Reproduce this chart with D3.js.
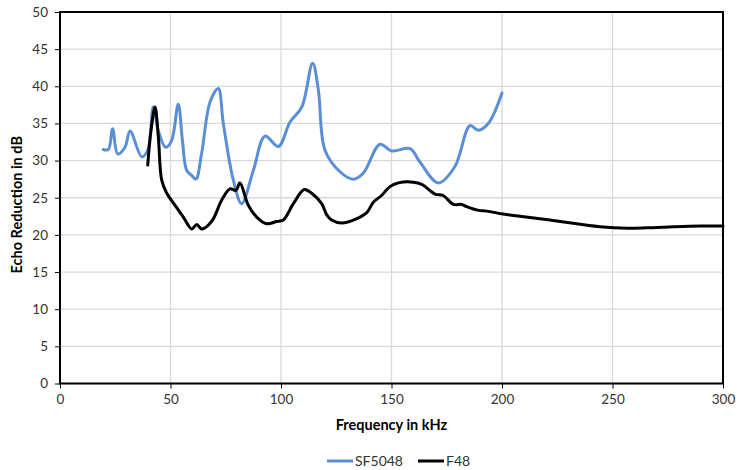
<!DOCTYPE html>
<html>
<head>
<meta charset="utf-8">
<script src="https://cdn.jsdelivr.net/npm/d3@7"></script>
<style>
  body { margin: 0; background: #fff; }
  svg text { font-family: Lato, "Open Sans", sans-serif; }
</style>
</head>
<body>
<svg id="chart" width="746" height="470"></svg>
<script>
// SF5048 series
const sfFreq = [19.6, 21.9, 23.8, 26.1, 29.4, 31.7, 37.0, 39.7, 42.2, 44.5, 47.8, 50.5, 53.5, 55.4,
  57.3, 59.6, 61.5, 64.1, 67.9, 71.6, 73.9, 78.4, 82.2, 87.5, 92.8, 98.8, 104.1, 109.4, 114.3,
  116.9, 119.9, 126.7, 132.7, 137.2, 144.8, 150.1, 158.4, 162.9, 171.2, 178.7, 185.5, 189.3,
  193.8, 200];
const sfEcho = [31.5, 31.5, 34.3, 30.9, 31.8, 34.0, 30.5, 31.4, 37.2, 34.0, 31.8, 32.7, 37.6, 32.7,
  28.7, 28.0, 27.5, 31.0, 37.9, 39.7, 35.0, 27.4, 24.2, 28.7, 33.3, 31.9, 35.2, 37.2, 43.1,
  39.5, 31.4, 28.5, 27.5, 28.3, 32.2, 31.3, 31.6, 29.8, 27.0, 29.2, 34.7, 34.1,
  35.0, 39.1];

// F48 series
const fFreq = [39.7, 41.2, 43.0, 44.5, 46.0, 48.3, 52.0, 55.8, 59.6, 61.9, 64.1, 68.6, 73.2, 76.9,
  79.6, 81.4, 85.2, 89.0, 93.5, 98.0, 101.0, 105.6, 110.5, 113.9, 118.4, 120.7, 122.9, 127.5,
  134.3, 138.8, 141.8, 145.5, 149.3, 153.1, 159.9, 163.7, 169.7, 173.4, 178.0, 181.8, 184.0,
  189.3, 193.1, 200.6, 208.1, 221.7, 244.3, 257, 270, 289.6, 300];
const fEcho = [29.4, 34.1, 37.2, 33.2, 27.4, 25.6, 24.0, 22.4, 20.8, 21.4, 20.8, 21.8, 24.7, 26.2,
  26.0, 27.0, 24.0, 22.4, 21.5, 21.8, 22.0, 24.2, 26.1, 25.6, 24.2, 22.7, 22.0, 21.6,
  22.2, 23.0, 24.4, 25.3, 26.5, 27.0, 27.1, 26.8, 25.5, 25.3, 24.1, 24.1, 23.8,
  23.3, 23.2, 22.8, 22.5, 22.0, 21.1, 20.9, 21.0, 21.2, 21.2];

const xTicks = [0, 50, 100, 150, 200, 250, 300];
const yTicks = [0, 5, 10, 15, 20, 25, 30, 35, 40, 45, 50];

const seriesNames = ["SF5048", "F48"];
const seriesColors = ["#5A8FD6", "#000000"];

const svg = d3.select("#chart");
const plotL = 60, plotR = 723, plotT = 12, plotB = 383.5;

const x = d3.scaleLinear().domain([0, 300]).range([plotL, plotR]);
const y = d3.scaleLinear().domain([0, 50]).range([plotB, plotT]);

// gridlines
const grid = svg.append("g").attr("class", "grid");
grid.selectAll(".hgrid")
  .data(yTicks)
  .join("line")
  .attr("x1", plotL).attr("x2", plotR)
  .attr("y1", (d) => y(d)).attr("y2", (d) => y(d))
  .attr("stroke", "#d9d9d9")
  .attr("stroke-width", 1.3);
grid.selectAll(".vgrid")
  .data(xTicks)
  .join("line")
  .attr("y1", plotT).attr("y2", plotB)
  .attr("x1", (d) => x(d)).attr("x2", (d) => x(d))
  .attr("stroke", "#d9d9d9")
  .attr("stroke-width", 1.3);

// axes
const xAxis = svg.append("g")
  .attr("transform", `translate(0,${plotB})`)
  .call(d3.axisBottom(x).tickValues(xTicks).tickSize(5).tickPadding(6));
const yAxis = svg.append("g")
  .attr("transform", `translate(${plotL},0)`)
  .call(d3.axisLeft(y).tickValues(yTicks).tickSize(5).tickPadding(7));

[xAxis, yAxis].forEach((ax) => {
  ax.select(".domain").remove();
  ax.selectAll(".tick line").attr("stroke", "#000").attr("stroke-width", 1);
  ax.selectAll(".tick text")
    .attr("fill", "#333")
    .style("font-size", "13.5px");
});

// plot border
svg.append("rect")
  .attr("x", plotL).attr("y", plotT)
  .attr("width", plotR - plotL).attr("height", plotB - plotT)
  .attr("fill", "none")
  .attr("stroke", "#000")
  .attr("stroke-width", 2);

// lines
const line = d3.line()
  .x((d) => x(d[0]))
  .y((d) => y(d[1]))
  .curve(d3.curveCatmullRom.alpha(0.5));

const series = [
  d3.zip(sfFreq, sfEcho),
  d3.zip(fFreq, fEcho)
];

svg.append("g")
  .selectAll("path")
  .data(series)
  .join("path")
  .attr("d", (d) => line(d))
  .attr("fill", "none")
  .attr("stroke", (d, i) => seriesColors[i])
  .attr("stroke-width", 3)
  .attr("stroke-linejoin", "round")
  .attr("stroke-linecap", "round");

// axis titles
svg.append("text")
  .attr("x", (plotL + plotR) / 2)
  .attr("y", 430)
  .attr("text-anchor", "middle")
  .style("font-size", "14.5px")
  .style("font-weight", "bold")
  .attr("fill", "#000")
  .text("Frequency in kHz");

svg.append("text")
  .attr("transform", `translate(22,${(plotT + plotB) / 2 + 7}) rotate(-90)`)
  .attr("text-anchor", "middle")
  .style("font-size", "14.5px")
  .style("font-weight", "bold")
  .attr("fill", "#000")
  .text("Echo Reduction in dB");

// legend
const legendX = [327, 418];
const legend = svg.append("g")
  .selectAll("g")
  .data(seriesNames)
  .join("g")
  .attr("transform", (d, i) => `translate(${legendX[i]},461)`);
legend.append("line")
  .attr("x1", 0).attr("x2", 26)
  .attr("stroke", (d, i) => seriesColors[i])
  .attr("stroke-width", 3);
legend.append("text")
  .attr("x", 28)
  .attr("dy", "0.35em")
  .style("font-size", "14px")
  .attr("fill", "#333")
  .text((d) => d);
</script>
</body>
</html>
